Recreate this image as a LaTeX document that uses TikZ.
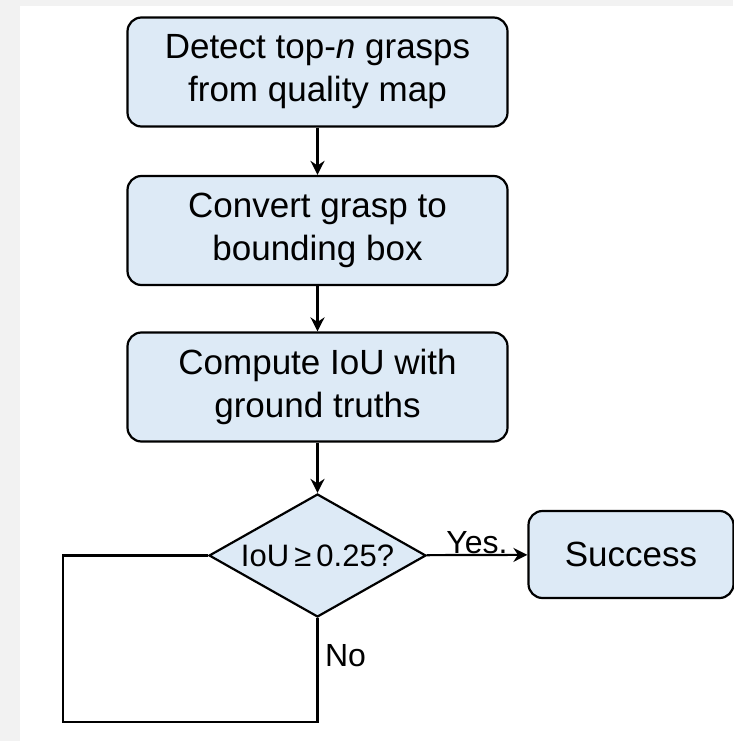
\documentclass[tikz,border=0pt]{standalone}
\usepackage{fontspec}
\setmainfont{Liberation Sans}
\usetikzlibrary{shapes.geometric,arrows.meta}
\definecolor{boxblue}{HTML}{DDEAF6}
\definecolor{pagegray}{HTML}{F2F2F2}

\begin{document}
\begin{tikzpicture}[x=1pt,y=-1pt,>={Stealth[length=14pt,width=14pt]},
stepbox/.style={rectangle, rounded corners=14pt, draw=black, line width=2.2pt, fill=boxblue, align=center, minimum width=380pt, minimum height=109pt, font=\fontsize{35}{43}\selectfont},
decision/.style={diamond, aspect=1.76, draw=black, line width=2.2pt, fill=boxblue, inner sep=0pt, minimum width=217pt, minimum height=123pt, font=\fontsize{31}{36}\selectfont},
flow/.style={line width=2.2pt},
flowlabel/.style={font=\fontsize{32}{38}\selectfont}]

\useasboundingbox (0,0) rectangle (733,741);
\fill[pagegray] (0,0) rectangle (733,741);
\fill[white] (20,6) rectangle (733,741);

\draw (317.5,72) node[stepbox] (detect) {Detect top-\textit{n} grasps\\from quality map};
\draw (317.5,230.5) node[stepbox] (convert) {Convert grasp to\\bounding box};
\draw (317.5,387) node[stepbox] (iou) {Compute IoU with\\ground truths};
\draw (317.5,555.5) node[decision] (check) {IoU\,≥\,0.25?};
\draw (631,554.5) node[stepbox, minimum width=205pt, minimum height=87pt] (success) {Success};

\coordinate (loopR) at (317.5,722);
\coordinate (loopL) at (63,722);
\coordinate (loopT) at (63,555.5);

\draw[flow,->] (detect)--(convert);
\draw[flow,->] (convert)--(iou);
\draw[flow,->] (iou)--(check);
\draw[flow,->] (check)--(success) node[pos=0.5, above=-3pt, flowlabel] {Yes.};
\draw[flow] (check.south)--(loopR)--(loopL)--(loopT)--(check.west);
\draw (check.south) ++(4,38) node[right, flowlabel] (no) {No};
\end{tikzpicture}
\end{document}
